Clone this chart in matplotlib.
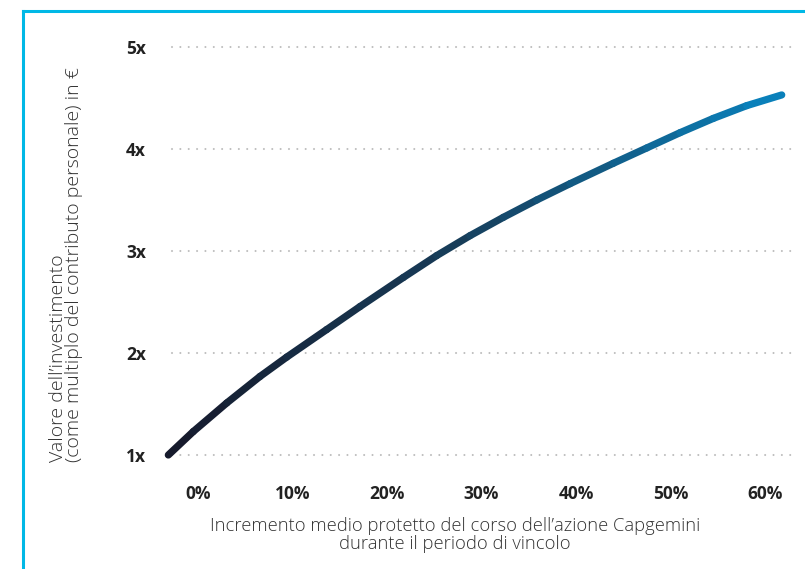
import matplotlib
matplotlib.use("Agg")
import matplotlib.pyplot as plt
import numpy as np
from matplotlib.collections import LineCollection
from matplotlib.colors import LinearSegmentedColormap
from matplotlib.lines import Line2D

# data (x = average protected increase in %, y = multiple)
increase_pct = [-3.14, -0.50, 3.04, 6.56, 9.39, 13.62, 17.14, 21.72, 25.26, 28.78,
                32.31, 35.84, 39.37, 43.95, 47.48, 51.01, 54.53, 58.06, 61.77]
value_multiple = [1.00, 1.23, 1.51, 1.77, 1.96, 2.23, 2.455, 2.74, 2.955, 3.15,
                  3.33, 3.50, 3.66, 3.86, 4.01, 4.16, 4.30, 4.425, 4.53]
x_ticks = [0, 10, 20, 30, 40, 50, 60]
x_tick_labels = ["0%", "10%", "20%", "30%", "40%", "50%", "60%"]
y_ticks = [1, 2, 3, 4, 5]
y_tick_labels = ["1x", "2x", "3x", "4x", "5x"]

W, H = 805, 569
fig = plt.figure(figsize=(W / 100, H / 100), dpi=100)
plt.rcParams["font.family"] = ["Open Sans", "DejaVu Sans"]

# axes placed in pixel terms
left_px, right_px, top_px, bottom_px = 150, 800, 35, 470
ax = fig.add_axes([left_px / W, 1 - bottom_px / H,
                   (right_px - left_px) / W, (bottom_px - top_px) / H])

px_per_pct = 9.45
zero_px = 198
ax.set_xlim((left_px - zero_px) / px_per_pct, (right_px - zero_px) / px_per_pct)
px_per_unit = 102
ax.set_ylim(1 - (bottom_px - 455) / px_per_unit, 5 + (47 - top_px) / px_per_unit)

# dotted gridlines
grid_x0 = (172 - zero_px) / px_per_pct
grid_x1 = (792 - zero_px) / px_per_pct
for yv in y_ticks:
    ax.plot([grid_x0, grid_x1], [yv, yv], color="#bdbdbd", lw=1.5,
            linestyle=(0, (0.01, 4)), dash_capstyle="round", zorder=1)

# gradient curve
pts = np.column_stack([increase_pct, value_multiple]).reshape(-1, 1, 2)
segs = np.concatenate([pts[:-1], pts[1:]], axis=1)
cmap = LinearSegmentedColormap.from_list("curve", ["#161a2c", "#173f5c", "#0a80ba"])
lc = LineCollection(segs, cmap=cmap, linewidths=5.2, capstyle="round",
                    joinstyle="round", clip_on=False, zorder=3)
lc.set_array(np.linspace(0, 1, len(segs)))
ax.add_collection(lc)

for s in ax.spines.values():
    s.set_visible(False)
ax.set_xticks(x_ticks)
ax.set_xticklabels(x_tick_labels, fontsize=12.5, fontweight="bold", color="#222222")
ax.set_yticks(y_ticks)
ax.set_yticklabels(y_tick_labels, fontsize=12.5, fontweight="bold", color="#222222")
ax.tick_params(axis="both", length=0)
ax.tick_params(axis="x", pad=11)
ax.tick_params(axis="y", pad=3)

# axis titles
fig.text(455 / W, 1 - 535 / H,
         "Incremento medio protetto del corso dell\u2019azione Capgemini\ndurante il periodo di vincolo",
         ha="center", va="center", fontsize=13.2, color="#333333",
         fontweight="light", linespacing=0.95)
fig.text(66 / W, 1 - 462 / H,
         "Valore dell\u2019investimento\n(come multiplo del contributo personale) in \u20ac",
         rotation=90, ha="center", va="bottom", multialignment="left",
         fontsize=14, color="#333333", fontweight="light", linespacing=0.92)

# cyan frame (left and top)
frame_col = "#00b8e6"
fig.add_artist(Line2D([23 / W, 23 / W], [0, 1 - 11 / H], color=frame_col, lw=2.2,
                      transform=fig.transFigure, solid_capstyle="projecting"))
fig.add_artist(Line2D([23 / W, 1], [1 - 11 / H, 1 - 11 / H], color=frame_col, lw=2.2,
                      transform=fig.transFigure, solid_capstyle="projecting"))

fig.savefig("out.png", dpi=100)
plt.close(fig)
